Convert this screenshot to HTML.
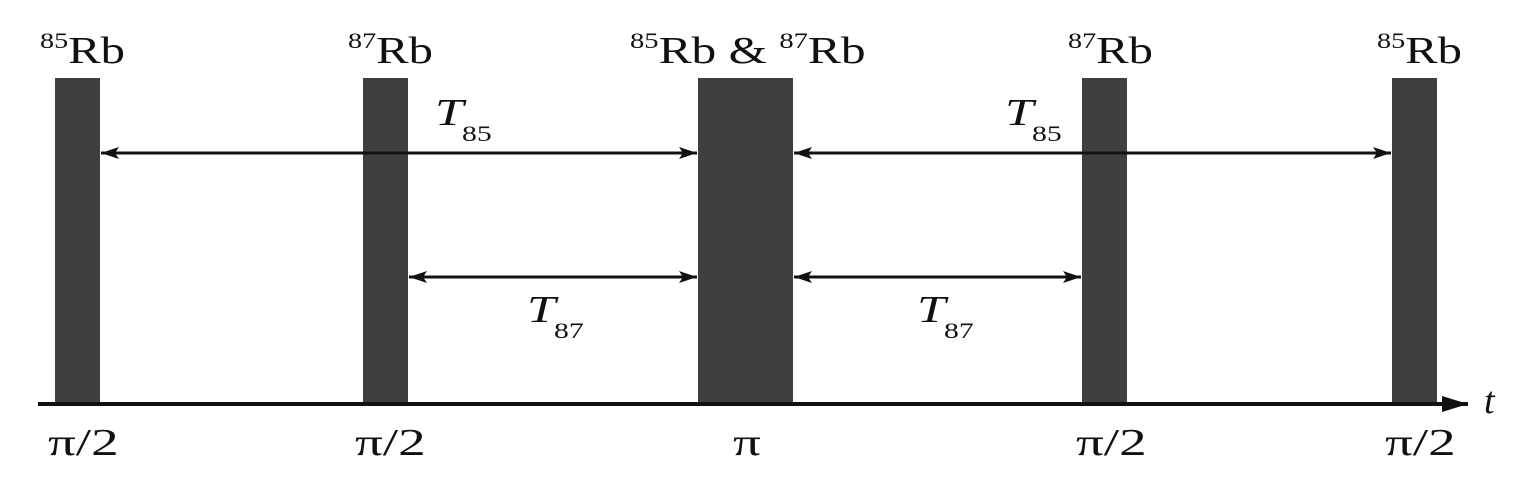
<!DOCTYPE html>
<html><head><style>body{margin:0;background:#fff}svg{display:block}</style></head><body>
<svg width="1520" height="492" xmlns="http://www.w3.org/2000/svg" font-family="Liberation Serif, serif">
<defs>
<marker id="a" markerWidth="18" markerHeight="12" refX="18" refY="6" orient="auto-start-reverse" markerUnits="userSpaceOnUse"><path d="M0,0 L18,6 L0,12 L4,6 Z" fill="#111"/></marker>
<marker id="b" markerWidth="26" markerHeight="16" refX="26" refY="8" orient="auto" markerUnits="userSpaceOnUse"><path d="M0,0 L26,8 L0,16 Z" fill="#111"/></marker>
</defs>
<g fill="#3f3f3f">
<rect x="55" y="78" width="45" height="327"/>
<rect x="363" y="78" width="45" height="327"/>
<rect x="698" y="78" width="95" height="327"/>
<rect x="1082" y="78" width="45" height="327"/>
<rect x="1392" y="78" width="45" height="327"/>
</g>
<line x1="38" y1="404" x2="1468" y2="404" stroke="#111" stroke-width="4" marker-end="url(#b)"/>
<g stroke="#111" stroke-width="3">
<line x1="101" y1="153" x2="697" y2="153" marker-start="url(#a)" marker-end="url(#a)"/>
<line x1="794" y1="153" x2="1391" y2="153" marker-start="url(#a)" marker-end="url(#a)"/>
<line x1="409" y1="277" x2="697" y2="277" marker-start="url(#a)" marker-end="url(#a)"/>
<line x1="794" y1="277" x2="1081" y2="277" marker-start="url(#a)" marker-end="url(#a)"/>
</g>
<g fill="#111" font-size="38">
<g transform="translate(40,0) scale(1.28,1)"><text x="0" y="63"><tspan font-size="22" dy="-15">85</tspan><tspan dy="15">Rb</tspan></text></g>
<g transform="translate(348,0) scale(1.28,1)"><text x="0" y="63"><tspan font-size="22" dy="-15">87</tspan><tspan dy="15">Rb</tspan></text></g>
<g transform="translate(630,0) scale(1.3,1)"><text x="0" y="63"><tspan font-size="22" dy="-15">85</tspan><tspan dy="15">Rb &amp; </tspan><tspan font-size="22" dy="-15">87</tspan><tspan dy="15">Rb</tspan></text></g>
<g transform="translate(1068,0) scale(1.28,1)"><text x="0" y="63"><tspan font-size="22" dy="-15">87</tspan><tspan dy="15">Rb</tspan></text></g>
<g transform="translate(1377,0) scale(1.28,1)"><text x="0" y="63"><tspan font-size="22" dy="-15">85</tspan><tspan dy="15">Rb</tspan></text></g>
<g transform="translate(435,0) scale(1.35,1)"><text x="0" y="125" font-style="italic" font-size="38">T</text><text x="20" y="141" font-size="22">85</text></g>
<g transform="translate(1005,0) scale(1.35,1)"><text x="0" y="125" font-style="italic" font-size="38">T</text><text x="20" y="141" font-size="22">85</text></g>
<g transform="translate(527,0) scale(1.35,1)"><text x="0" y="322" font-style="italic" font-size="38">T</text><text x="20" y="338" font-size="22">87</text></g>
<g transform="translate(917,0) scale(1.35,1)"><text x="0" y="322" font-style="italic" font-size="38">T</text><text x="20" y="338" font-size="22">87</text></g>
<g transform="translate(48,0) scale(1.45,1)"><text x="0" y="455">π/2</text></g>
<g transform="translate(355,0) scale(1.45,1)"><text x="0" y="455">π/2</text></g>
<g transform="translate(733,0) scale(1.45,1)"><text x="0" y="455">π</text></g>
<g transform="translate(1076,0) scale(1.45,1)"><text x="0" y="455">π/2</text></g>
<g transform="translate(1385,0) scale(1.45,1)"><text x="0" y="455">π/2</text></g>
<text x="1484" y="413" font-style="italic">t</text>
</g>
</svg>
</body></html>
